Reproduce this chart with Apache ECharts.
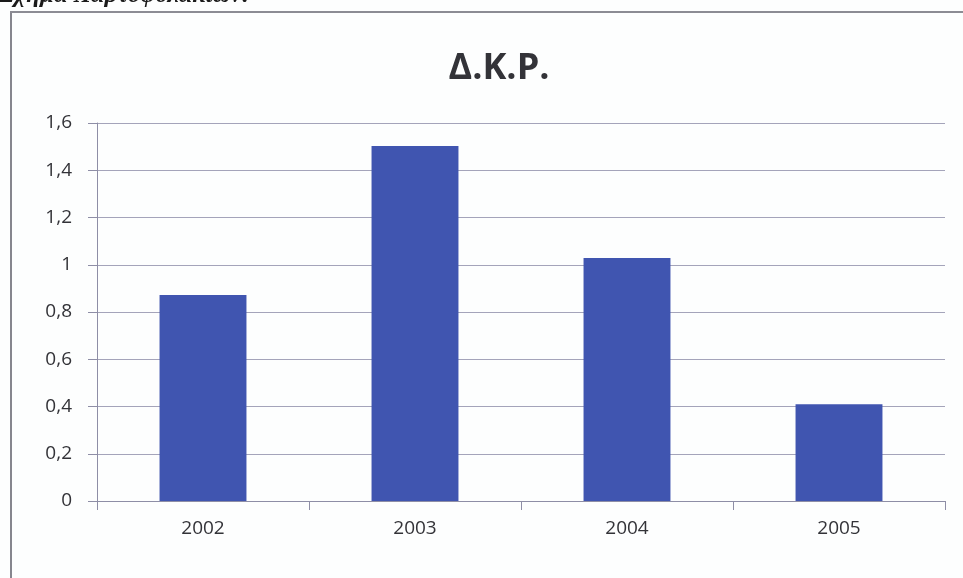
<!DOCTYPE html>
<html>
<head>
<meta charset="utf-8">
<script src="https://cdn.jsdelivr.net/npm/echarts@6/dist/echarts.min.js"></script>
<style>
html,body{margin:0;padding:0;background:#fdfefe;}
#c{width:963px;height:578px;}
</style>
</head>
<body>
<div id="c"></div>
<script>
const years = ['2002', '2003', '2004', '2005'];
const values = [0.872, 1.503, 1.029, 0.41];
const yTicks = [0, 0.2, 0.4, 0.6, 0.8, 1, 1.2, 1.4, 1.6];
const chartTitle = 'Δ.Κ.Ρ.';
const captionText = 'Σχήμα Χαρτοφυλακίων:';

const chart = echarts.init(document.getElementById('c'), null, {renderer: 'canvas'});
chart.setOption({
  backgroundColor: '#fdfefe',
  animation: false,
  title: {
    text: chartTitle,
    left: 494, top: 46, textAlign: 'center',
    textStyle: {fontFamily: 'Open Sans', fontWeight: 'bold', fontSize: 36, color: '#333338'}
  },
  graphic: [
    {type: 'line', shape: {x1: 11, y1: 12, x2: 11, y2: 578}, style: {stroke: '#86868e', lineWidth: 2}},
    {type: 'line', shape: {x1: 10, y1: 12, x2: 963, y2: 12}, style: {stroke: '#8c8c94', lineWidth: 2}},
    {type: 'text', x: 250, y: 8,
     style: {text: captionText, font: 'italic bold 25px "Liberation Serif"', fill: '#1a1a1a',
             align: 'right', verticalAlign: 'bottom'}}
  ],
  grid: {left: 97, right: 18, top: 123, bottom: 77},
  xAxis: {
    type: 'category',
    data: years,
    axisLine: {lineStyle: {color: '#8e8ea6', width: 1}},
    axisTick: {show: true, length: 9, lineStyle: {color: '#8e8ea6'}},
    axisLabel: {fontFamily: 'Open Sans', fontSize: 19, color: '#333338', margin: 18}
  },
  yAxis: {
    type: 'value',
    min: yTicks[0], max: yTicks[yTicks.length - 1], interval: 0.2,
    axisLine: {show: true, lineStyle: {color: '#8e8ea6', width: 1}},
    axisTick: {show: true, length: 9, lineStyle: {color: '#8e8ea6'}},
    splitLine: {lineStyle: {color: '#a4a4ba', width: 1}},
    axisLabel: {
      fontFamily: 'Open Sans', fontSize: 19, color: '#333338', margin: 25,
      formatter: v => String(Math.round(v * 10) / 10).replace('.', ',')
    }
  },
  series: [{
    type: 'bar',
    data: values,
    barWidth: '41%',
    itemStyle: {color: '#4055b0'}
  }]
});
</script>
</body>
</html>
